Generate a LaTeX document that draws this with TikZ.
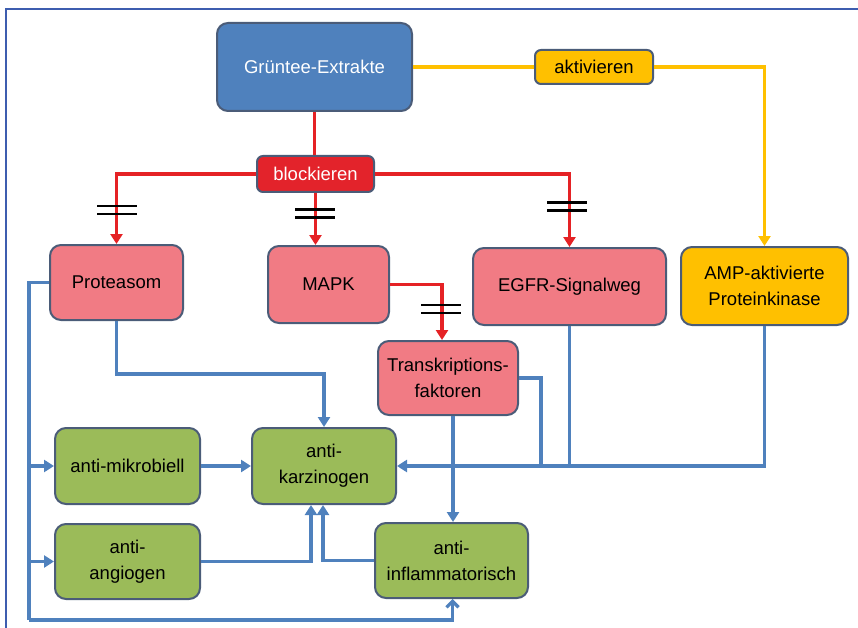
\documentclass[tikz,border=0pt]{standalone}
\usepackage{fontspec}
\setmainfont{Liberation Sans}
\usetikzlibrary{arrows.meta}
\definecolor{boxblue}{HTML}{4F81BD}
\definecolor{boxred}{HTML}{E3232B}
\definecolor{boxpink}{HTML}{F17B84}
\definecolor{boxgreen}{HTML}{9BBB59}
\definecolor{boxyellow}{HTML}{FFC000}
\definecolor{rim}{HTML}{4B5C78}
\definecolor{lineblue}{HTML}{4F81BD}
\definecolor{linered}{HTML}{E52225}
\definecolor{frameblue}{HTML}{3D5DAF}

\begin{document}
\begin{tikzpicture}[x=1pt,y=-1pt,
  box/.style={draw=rim,line width=2pt,rounded corners=11pt,align=center,
    inner sep=0pt,font=\fontsize{18.5}{26}\selectfont},
  bl/.style={lineblue,line width=3.2pt},
  rd/.style={linered,line width=3.2pt},
  yl/.style={boxyellow,line width=3.2pt},
  bar/.style={black,line width=2.6pt},
  >={Triangle[width=12pt,length=10pt]}]
  \useasboundingbox (0,0) rectangle (858,628);
  \draw[frameblue,line width=2.2pt] (6,640) -- (6,9) -- (870,9);
  % boxes
  \node[box,fill=boxblue,text=white,minimum width=195,minimum height=88] (gruen) at (314.5,67) {Grüntee-Extrakte};
  \node[box,fill=boxred,text=white,minimum width=117,minimum height=36,rounded corners=6pt] (block) at (315.5,174) {blockieren};
  \node[box,fill=boxyellow,minimum width=118,minimum height=34,rounded corners=6pt] (aktiv) at (594,67) {aktivieren};
  \node[box,fill=boxpink,minimum width=133,minimum height=75] (prot) at (116.5,282.5) {Proteasom};
  \node[box,fill=boxpink,minimum width=121,minimum height=77] (mapk) at (328.5,284.5) {MAPK};
  \node[box,fill=boxpink,minimum width=193,minimum height=77] (egfr) at (569.5,286.5) {EGFR-Signalweg};
  \node[box,fill=boxyellow,minimum width=167,minimum height=78] (ampk) at (764.5,286) {AMP-aktivierte\\Proteinkinase};
  \node[box,fill=boxpink,minimum width=140,minimum height=74] (trans) at (448,378) {Transkriptions-\\faktoren};
  \node[box,fill=boxgreen,minimum width=145,minimum height=76] (mikro) at (127.5,466) {anti-mikrobiell};
  \node[box,fill=boxgreen,minimum width=144,minimum height=76] (karz) at (324,466) {anti-\\karzinogen};
  \node[box,fill=boxgreen,minimum width=145,minimum height=75] (angio) at (127.5,561.5) {anti-\\angiogen};
  \node[box,fill=boxgreen,minimum width=153,minimum height=75] (inflam) at (451.5,560.5) {anti-\\inflammatorisch};
  % activation
  \draw[yl] (gruen) -- (aktiv);
  \draw[yl,->] (aktiv) -| (ampk);
  % blocking
  \draw[rd] (gruen.south) -- (gruen.south |- block.north);
  \draw[rd,->] (block) -| (prot);
  \draw[rd,->] (block) -- (block |- mapk.north);
  \draw[rd,->] (block) -| (egfr);
  \draw[rd,->] (mapk.east) -| ([xshift=-6]trans.north);
  \foreach \bx/\by in {117/210,315/213.5,567/206.5,441/309}{
    \draw[bar] (\bx-20,\by-4) -- +(40,0);
    \draw[bar] (\bx-20,\by+4) -- +(40,0);
  }
  % effects
  \coordinate (lt) at (29,282.5);
  \coordinate (lb) at (29,620);
  \draw[bl,->] (prot.south) -- ++(0,53) -| (karz.north);
  \draw[bl] (prot.west) -- (lt) -- (lb);
  \draw[bl,-{Straight Barb[width=12pt,length=6pt]}] (lb) -| ([xshift=1]inflam.south);
  \draw[bl,->] (lt |- mikro) -- (mikro.west);
  \draw[bl,->] (lt |- angio) -- (angio.west);
  \draw[bl,->] (mikro) -- (karz);
  \draw[bl,->] (angio) -| ([xshift=-13]karz.south);
  \draw[bl,->] (inflam) -| ([xshift=-1]karz.south);
  \draw[bl,->] (ampk.south) |- (karz.east);
  \draw[bl] (egfr.south) -- (egfr.south |- karz.east);
  \draw[bl] (trans.east) -- ++(22,0) -- ++(0,88);
  \draw[bl,->] ([xshift=5]trans.south) -- ([xshift=5]trans.south |- inflam.north);
\end{tikzpicture}
\end{document}
